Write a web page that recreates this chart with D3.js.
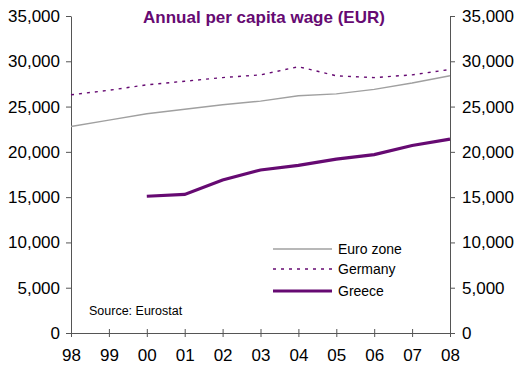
<!DOCTYPE html>
<html>
<head>
<meta charset="utf-8">
<script src="https://cdn.jsdelivr.net/npm/d3@7"></script>
<style>
  body { margin: 0; background: #fff; }
  svg { display: block; font-family: "Liberation Sans", Arial, sans-serif; }
</style>
</head>
<body>
<div id="chart"></div>
<script>
// years on the x axis
var years = ["98", "99", "00", "01", "02", "03", "04", "05", "06", "07", "08"];
var yTicks = [0, 5000, 10000, 15000, 20000, 25000, 30000, 35000];

// series values (EUR)
var euroZone = [22800, 23500, 24200, 24700, 25200, 25600, 26200, 26400, 26900, 27600, 28400];
var germany = [26300, 26800, 27400, 27800, 28200, 28500, 29400, 28400, 28200, 28500, 29100];
var greece = [null, null, 15100, 15300, 16900, 18000, 18500, 19200, 19700, 20700, 21400];

var seriesNames = ["Euro zone", "Germany", "Greece"];
var purple = "#660a72";

var width = 521, height = 369;
var margin = { left: 71, right: 71, top: 16, bottom: 36 };

var svg = d3.select("#chart").append("svg")
    .attr("width", width)
    .attr("height", height);

var x = d3.scalePoint()
    .domain(years)
    .range([margin.left, width - margin.right]);

var y = d3.scaleLinear()
    .domain([0, 35000])
    .range([height - margin.bottom, margin.top]);

var fmt = d3.format(",");

// left axis
var leftAxis = svg.append("g")
    .attr("transform", "translate(" + margin.left + ",0)")
    .call(d3.axisLeft(y).tickValues(yTicks).tickFormat(fmt).tickSize(5).tickSizeOuter(0));

// right axis
var rightAxis = svg.append("g")
    .attr("transform", "translate(" + (width - margin.right) + ",0)")
    .call(d3.axisRight(y).tickValues(yTicks).tickFormat(fmt).tickSize(5).tickSizeOuter(0));

// bottom axis
var bottomAxis = svg.append("g")
    .attr("transform", "translate(0," + y(0) + ")")
    .call(d3.axisBottom(x).tickSize(5).tickSizeOuter(0));

bottomAxis.selectAll(".tick line").attr("y1", -4).attr("y2", 4);

[leftAxis, rightAxis, bottomAxis].forEach(function (g) {
    g.select(".domain").attr("stroke", "#555").attr("stroke-width", 1);
    g.selectAll(".tick line").attr("stroke", "#555");
    g.selectAll(".tick text")
        .attr("fill", "#000")
        .style("font-size", "17px")
        .style("font-family", "Liberation Sans, Arial, sans-serif");
});
leftAxis.selectAll(".tick text").attr("x", -11);
rightAxis.selectAll(".tick text").attr("x", 12);
bottomAxis.selectAll(".tick text").attr("y", 16);

// lines
var line = d3.line()
    .defined(function (d) { return d != null; })
    .x(function (d, i) { return x(years[i]); })
    .y(function (d) { return y(d); });

var styles = [
    { data: euroZone, stroke: "#a0a0a0", width: 1.4, dash: null },
    { data: germany, stroke: purple, width: 1.4, dash: "3,5" },
    { data: greece, stroke: purple, width: 3.2, dash: null }
];

styles.forEach(function (s) {
    svg.append("path")
        .datum(s.data)
        .attr("fill", "none")
        .attr("stroke", s.stroke)
        .attr("stroke-width", s.width)
        .attr("stroke-dasharray", s.dash)
        .attr("d", line);
});

// title
svg.append("text")
    .attr("x", 264)
    .attr("y", 23)
    .attr("text-anchor", "middle")
    .attr("fill", purple)
    .style("font-weight", "bold")
    .style("font-size", "17px")
    .text("Annual per capita wage (EUR)");

// legend
var legend = svg.append("g").attr("transform", "translate(273,249)");
styles.forEach(function (s, i) {
    var ly = [0, 20, 42][i];
    legend.append("line")
        .attr("x1", 0).attr("x2", 59)
        .attr("y1", ly).attr("y2", ly)
        .attr("stroke", s.stroke)
        .attr("stroke-width", s.width)
        .attr("stroke-dasharray", s.dash);
    legend.append("text")
        .attr("x", 65)
        .attr("y", ly + 5)
        .style("font-size", "14px")
        .attr("fill", "#000")
        .text(seriesNames[i]);
});

// source note
svg.append("text")
    .attr("x", 89)
    .attr("y", 315)
    .style("font-size", "12.5px")
    .attr("fill", "#000")
    .text("Source: Eurostat");
</script>
</body>
</html>
